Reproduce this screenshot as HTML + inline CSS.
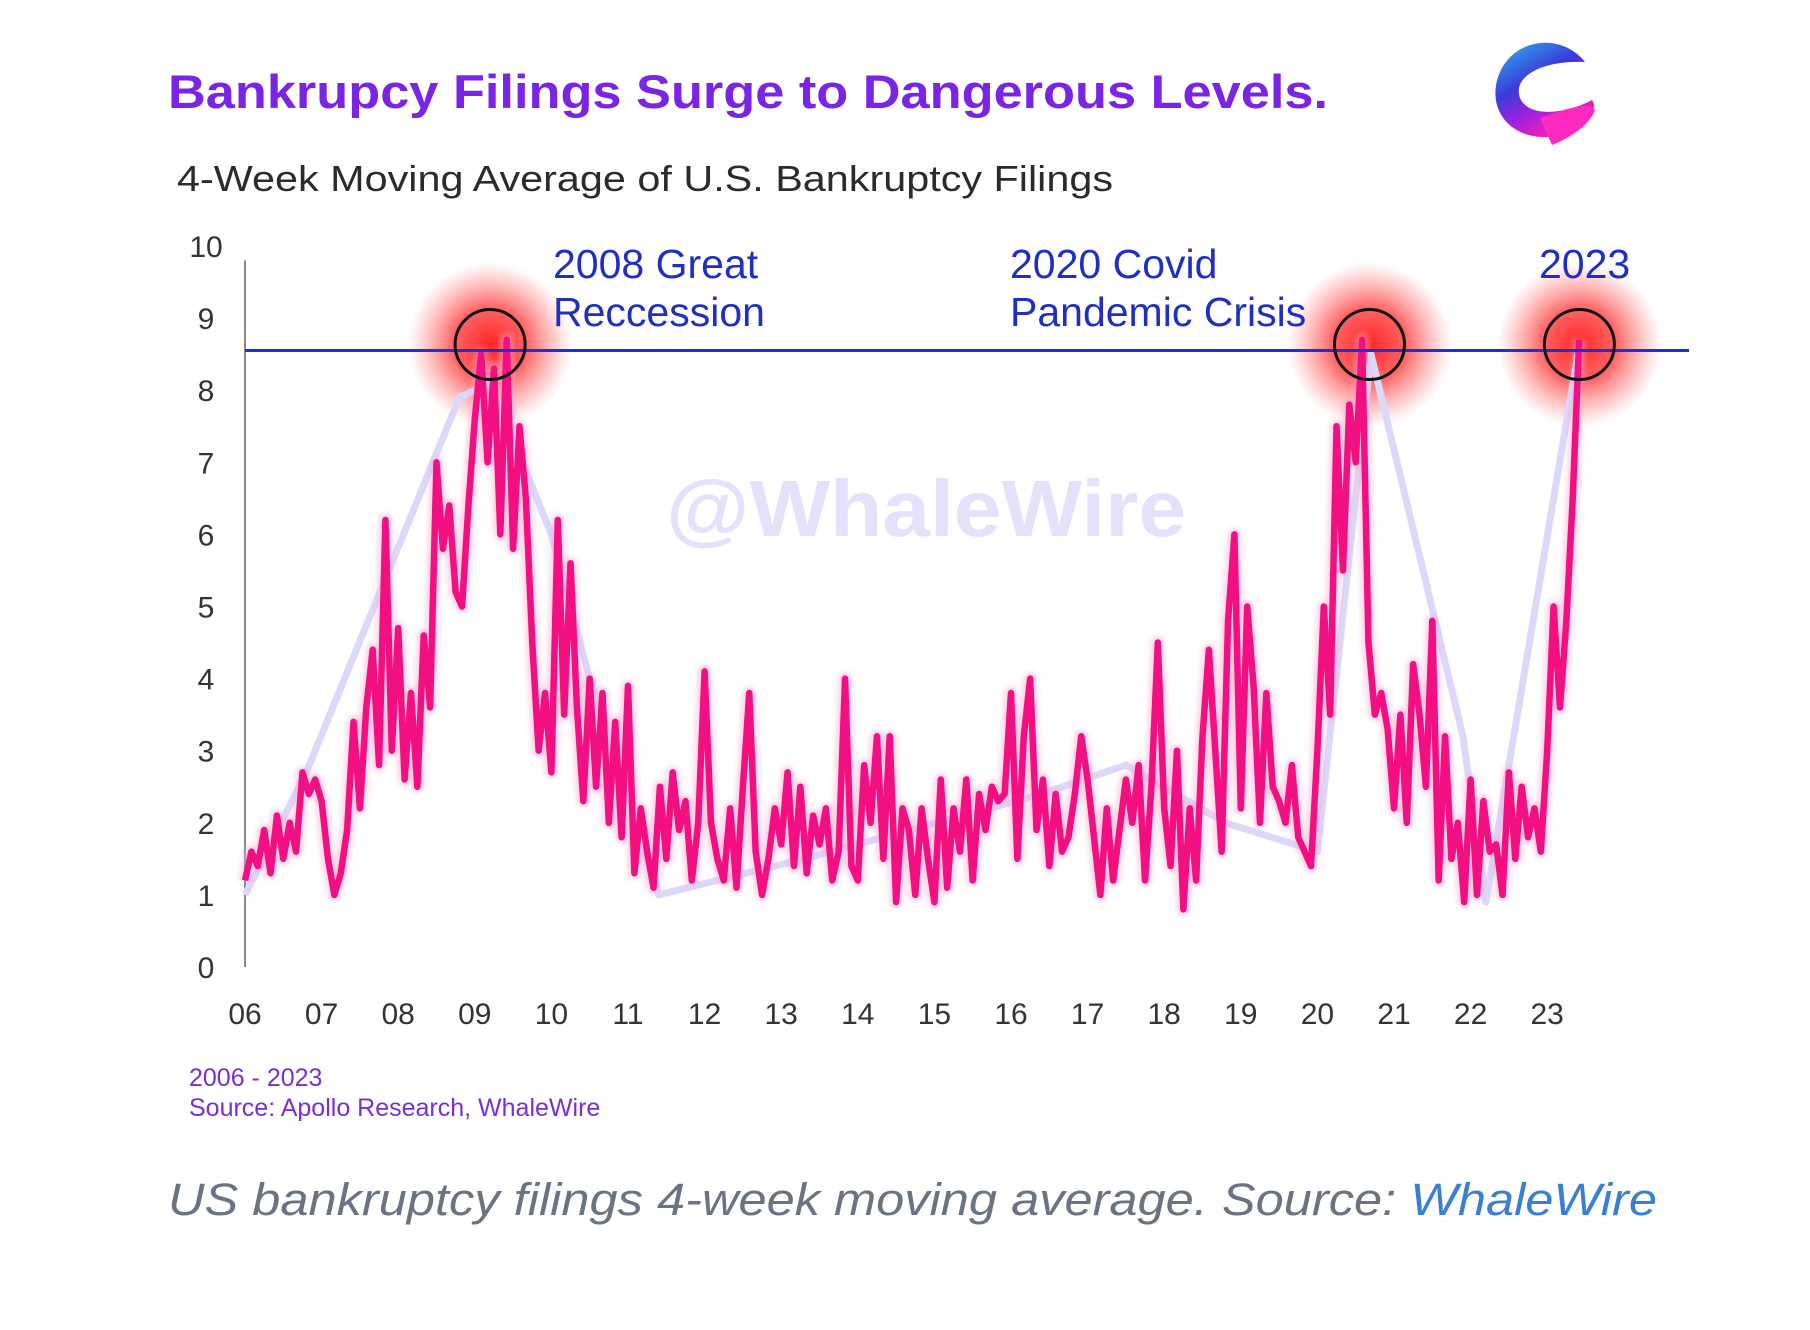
<!DOCTYPE html>
<html><head><meta charset="utf-8"><style>
html,body{margin:0;padding:0;background:#fff;width:1810px;height:1330px;overflow:hidden}
svg{display:block}
text{font-family:"Liberation Sans",sans-serif}
</style></head><body>
<svg id="chart" width="1810" height="1330" viewBox="0 0 1810 1330" xmlns="http://www.w3.org/2000/svg">
<defs>
  <radialGradient id="glow">
    <stop offset="0" stop-color="#ff1a1a" stop-opacity="0.95"/>
    <stop offset="0.45" stop-color="#ff3030" stop-opacity="0.75"/>
    <stop offset="1" stop-color="#ff6060" stop-opacity="0"/>
  </radialGradient>
  <linearGradient id="logoGrad" x1="0" y1="0" x2="0.6" y2="1">
    <stop offset="0" stop-color="#2fb8f0"/>
    <stop offset="0.45" stop-color="#3a3ad8"/>
    <stop offset="0.7" stop-color="#a020e0"/>
    <stop offset="1" stop-color="#ff1fb0"/>
  </linearGradient>
  <filter id="soft" x="-5%" y="-5%" width="110%" height="110%"><feGaussianBlur stdDeviation="3"/></filter>
</defs>

<text x="168" y="108" font-size="47" font-weight="bold" fill="#7a24e6" textLength="1160" lengthAdjust="spacingAndGlyphs">Bankrupcy Filings Surge to Dangerous Levels.</text>

<g>
  <path d="M1585 62 C1560 30 1505 38 1496 85 C1490 125 1530 148 1570 132 C1590 124 1598 108 1592 100 C1570 112 1530 120 1520 98 C1512 75 1545 60 1585 62 Z" fill="url(#logoGrad)"/>
  <path d="M1540 118 C1560 112 1585 100 1595 110 C1590 125 1570 138 1552 145 Z" fill="#ff2bc0"/>
</g>

<text x="177" y="191" font-size="36" fill="#2b2b2b" textLength="936" lengthAdjust="spacingAndGlyphs">4-Week Moving Average of U.S. Bankruptcy Filings</text>

<text x="926" y="536" font-size="80" font-weight="bold" fill="#e6e1fa" text-anchor="middle" textLength="520" lengthAdjust="spacingAndGlyphs">@WhaleWire</text>

<g id="axes"></g>
<g id="glows"></g>
<g id="plot"></g>

<text font-size="41" fill="#1f2fc4"><tspan x="553" y="278">2008 Great</tspan><tspan x="553" y="326">Reccession</tspan></text>
<text font-size="41" fill="#1f2fc4"><tspan x="1010" y="278">2020 Covid</tspan><tspan x="1010" y="326">Pandemic Crisis</tspan></text>
<text x="1539" y="278" font-size="41" fill="#1f2fc4">2023</text>

<text x="189" y="1086" font-size="25" fill="#7a2ed6">2006 - 2023</text>
<text x="189" y="1116" font-size="25" fill="#7a2ed6">Source: Apollo Research, WhaleWire</text>

<text x="168" y="1215" font-size="45" font-style="italic" fill="#6b7280" textLength="1489" lengthAdjust="spacingAndGlyphs">US bankruptcy filings 4-week moving average. Source: <tspan fill="#3b7fd4">WhaleWire</tspan></text>
</svg>
<script>
const NS = "http://www.w3.org/2000/svg";
const startYear = 2006;
const yTicks = [0,1,2,3,4,5,6,7,8,9,10];
const xTickLabels = ["06","07","08","09","10","11","12","13","14","15","16","17","18","19","20","21","22","23"];
const thresholdValue = 8.55;
const monthlyValues = [
 1.2,1.6,1.4,1.9,1.3,2.1,1.5,2.0,1.6,2.7,2.4,2.6,
 2.3,1.5,1.0,1.3,1.9,3.4,2.2,3.6,4.4,2.8,6.2,3.0,
 4.7,2.6,3.8,2.5,4.6,3.6,7.0,5.8,6.4,5.2,5.0,6.4,
 7.6,8.5,7.0,8.3,6.0,8.7,5.8,7.5,6.5,4.5,3.0,3.8,
 2.7,6.2,3.5,5.6,3.6,2.3,4.0,2.5,3.8,2.0,3.4,1.8,
 3.9,1.3,2.2,1.6,1.1,2.5,1.5,2.7,1.9,2.3,1.2,2.0,
 4.1,2.0,1.5,1.2,2.2,1.1,2.5,3.8,1.6,1.0,1.5,2.2,
 1.7,2.7,1.4,2.5,1.3,2.1,1.7,2.2,1.2,1.6,4.0,1.4,
 1.2,2.8,2.0,3.2,1.5,3.2,0.9,2.2,1.9,1.0,2.2,1.5,
 0.9,2.6,1.1,2.2,1.6,2.6,1.2,2.4,1.9,2.5,2.3,2.4,
 3.8,1.5,3.2,4.0,1.9,2.6,1.4,2.4,1.6,1.8,2.4,3.2,
 2.6,1.8,1.0,2.2,1.2,1.9,2.6,2.0,2.8,1.2,2.5,4.5,
 2.2,1.4,3.0,0.8,2.2,1.2,3.2,4.4,3.0,1.6,4.8,6.0,
 2.2,5.0,3.9,2.0,3.8,2.5,2.3,2.0,2.8,1.8,1.6,1.4,
 3.0,5.0,3.5,7.5,5.5,7.8,7.0,8.7,4.5,3.5,3.8,3.3,
 2.2,3.5,2.0,4.2,3.5,2.5,4.8,1.2,3.2,1.5,2.0,0.9,
 2.6,1.0,2.3,1.6,1.7,1.0,2.7,1.5,2.5,1.8,2.2,1.6,
 3.0,5.0,3.6,4.8,6.5,8.7
];
const trendYears = [2006.0,2006.8,2008.8,2009.2,2010.0,2010.5,2011.4,2013.3,2016.4,2017.5,2018.8,2020.0,2020.7,2021.9,2022.2,2023.4];
const trendValues = [1.0,2.7,7.9,8.1,6.0,4.0,1.0,1.5,2.4,2.8,2.0,1.6,8.5,3.2,0.9,8.5];
const peakYears = [2009.2,2020.68,2023.42];

const x0 = 245, xPerYear = 76.6, y0 = 967, yPerUnit = 72.1;
const xScale = yr => x0 + (yr - startYear) * xPerYear;
const yScale = v => y0 - v * yPerUnit;

const axes = document.getElementById('axes');
const plot = document.getElementById('plot');
const glows = document.getElementById('glows');
function mk(tag, attrs, parent){const e=document.createElementNS(NS,tag);for(const k in attrs)e.setAttribute(k,attrs[k]);parent.appendChild(e);return e;}

const yAxis = mk('line',{x1:x0,y1:yScale(9.8),x2:x0,y2:y0,stroke:'#888','stroke-width':2},axes);


yTicks.forEach(v=>{
  const t = mk('text',{x:206,y:yScale(v)+11,'font-size':30,fill:'#333','text-anchor':'middle'},axes);
  t.textContent = v;
  
  
});
xTickLabels.forEach((lab,i)=>{
  const t = mk('text',{x:xScale(startYear+i),y:1024,'font-size':30,fill:'#333','text-anchor':'middle'},axes);
  t.textContent = lab;
  
  
});

const trend = mk('polyline',{points:trendYears.map((y,i)=>xScale(y)+','+yScale(trendValues[i])).join(' '),fill:'none',stroke:'#dcd8fa','stroke-width':7,'stroke-linejoin':'round'},plot);



const pts = monthlyValues.map((v,i)=>xScale(startYear+i/12)+','+yScale(v)).join(' ');
const halo = mk('polyline',{points:pts,fill:'none',stroke:'#f6a8d0','stroke-width':12,'stroke-linejoin':'round',filter:'url(#soft)',opacity:0.6},plot);


const series = mk('polyline',{points:pts,fill:'none',stroke:'#f20f82','stroke-width':6.5,'stroke-linejoin':'round'},plot);



const thr = mk('line',{x1:x0,y1:yScale(thresholdValue),x2:1689,y2:yScale(thresholdValue),stroke:'#1f2fd8','stroke-width':3},plot);



peakYears.forEach((py,i)=>{
  const g = mk('circle',{cx:xScale(py),cy:yScale(thresholdValue)-6,r:82,fill:'url(#glow)'},glows);
  
  
  const c = mk('circle',{cx:xScale(py),cy:yScale(thresholdValue)-6,r:35,fill:'none',stroke:'#111','stroke-width':3},plot);
  
  
});
</script>
</body></html>
